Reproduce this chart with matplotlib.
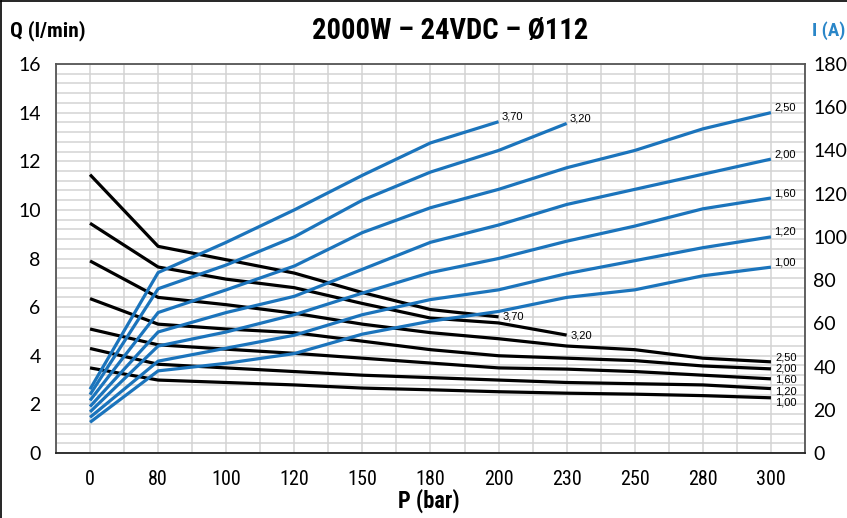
import matplotlib.pyplot as plt
from matplotlib.ticker import MultipleLocator
from matplotlib.lines import Line2D

pressure = ['0', '80', '100', '120', '150', '180', '200', '230', '250', '280', '300']
models = ['3,70', '3,20', '2,50', '2,00', '1,60', '1,20', '1,00']

# Q (l/min), left axis
flow_370 = [11.45, 8.5, 7.95, 7.4, 6.6, 5.9, 5.6]
flow_320 = [9.45, 7.65, 7.15, 6.8, 6.15, 5.55, 5.35, 4.85]
flow_250 = [7.9, 6.4, 6.1, 5.75, 5.3, 4.95, 4.7, 4.4, 4.25, 3.9, 3.75]
flow_200 = [6.35, 5.3, 5.1, 4.95, 4.6, 4.25, 4.0, 3.9, 3.8, 3.58, 3.46]
flow_160 = [5.1, 4.45, 4.27, 4.1, 3.9, 3.7, 3.5, 3.45, 3.35, 3.2, 3.05]
flow_120 = [4.3, 3.65, 3.5, 3.35, 3.2, 3.1, 3.0, 2.9, 2.85, 2.8, 2.65]
flow_100 = [3.5, 3.0, 2.9, 2.8, 2.67, 2.6, 2.52, 2.46, 2.42, 2.36, 2.27]

# I (A), right axis
amps_370 = [29.5, 83.5, 97.5, 112.5, 128.5, 143.5, 153.3]
amps_320 = [27, 76, 87, 100, 117, 130, 140, 152.5]
amps_250 = [24.3, 65, 75.5, 86.5, 102, 113.5, 122, 132, 140, 150, 157.5]
amps_200 = [21.5, 56, 65, 72.5, 85, 97.5, 105.5, 115, 122, 129, 136]
amps_160 = [19, 49.5, 56, 64, 74, 83.5, 90, 98, 105, 113, 118]
amps_120 = [16.5, 42.5, 48.5, 54.5, 64, 71, 75.5, 83, 89, 95, 100]
amps_100 = [14.2, 38, 41.5, 46, 55, 61, 65.5, 72, 75.5, 82, 86]

flows = [flow_370, flow_320, flow_250, flow_200, flow_160, flow_120, flow_100]
amps = [amps_370, amps_320, amps_250, amps_200, amps_160, amps_120, amps_100]
flow_label_dy = [0, 0, 4, 0, -1, -3, -5]

blue = '#1b74bc'
narrow = ['Liberation Sans Narrow', 'DejaVu Sans Condensed', 'Roboto Condensed', 'Liberation Sans']
tickfont = ['Lato', 'DejaVu Sans']

fig = plt.figure(figsize=(8.47, 5.18), dpi=100)
ax = fig.add_axes([0.0661, 0.1255, 0.8843, 0.7509])
ax2 = ax.twinx()

ax.set_xlim(-0.5, 10.5)
ax.set_ylim(0, 16)
ax2.set_ylim(0, 180)

ax.xaxis.set_minor_locator(MultipleLocator(0.5))
ax.yaxis.set_major_locator(MultipleLocator(2))
ax.yaxis.set_minor_locator(MultipleLocator(0.4))
ax2.yaxis.set_major_locator(MultipleLocator(20))
ax.grid(True, which='both', color='#d3d3d3', linewidth=1.1)
ax.set_axisbelow(True)

for m, q, i, dy in zip(models, flows, amps, flow_label_dy):
    xs = list(range(len(q)))
    ax.plot(xs, q, color='black', lw=2.3, solid_capstyle='butt')
    ax.annotate(m, (xs[-1], q[-1]), xytext=(4, dy), textcoords='offset pixels',
                ha='left', va='center', fontsize=8, family='Liberation Sans')
    xs = list(range(len(i)))
    ax2.plot(xs, i, color=blue, lw=2.3, solid_capstyle='butt')
    ax2.annotate(m, (xs[-1], i[-1]), xytext=(3, 5), textcoords='offset pixels',
                 ha='left', va='center', fontsize=8, family='Liberation Sans')

ax.set_xticks(range(len(pressure)))
ax.set_xticklabels(pressure, family=narrow, fontsize=14.5)
ax.tick_params(axis='x', which='both', length=0, pad=12)
ax.tick_params(axis='y', which='both', length=0, pad=11, labelsize=14)
ax2.tick_params(axis='y', length=0, pad=6, labelsize=14)
for lab in ax.get_yticklabels() + ax2.get_yticklabels():
    lab.set_family(tickfont)

for s in ax.spines.values():
    s.set_color('#555555')
    s.set_linewidth(1.3)
for s in ax2.spines.values():
    s.set_visible(False)
ax.spines['bottom'].set_color('#222222')

H = 518
# (text, x px, y px, width px, align, colour, size)
heads = [
    ('2000W – 24VDC – Ø112', 450, 31, 275, 'center', 'black', 20),
    ('Q (l/min)', 10, 31, 75, 'left', 'black', 13),
    ('I (A)', 812, 31, 33, 'left', '#2a86c8', 13),
    ('P (bar)', 429, 501, 62, 'center', 'black', 14),
]
texts = []
for s, x, y, w, ha, c, fs in heads:
    t = fig.text(x / 847, 1 - y / H, s, ha=ha, va='center', color=c,
                 family=narrow, fontsize=fs, fontweight='bold')
    texts.append((t, w))

fig.canvas.draw()
r = fig.canvas.get_renderer()
for t, w in texts:
    cur = t.get_window_extent(r).width
    t.set_fontsize(t.get_fontsize() * w / cur)

# outer frame
fig.add_artist(Line2D([0.0015, 0.0015], [0, 0.998], color='black', lw=1.2, transform=fig.transFigure))
fig.add_artist(Line2D([0.0015, 1], [0.998, 0.998], color='black', lw=1.2, transform=fig.transFigure))

fig.savefig('out.png', dpi=100)
